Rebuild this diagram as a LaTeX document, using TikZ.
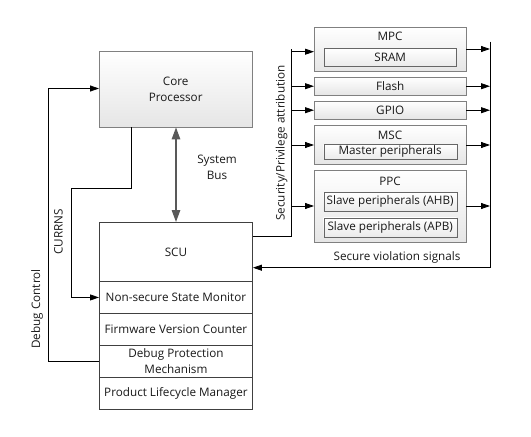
\documentclass[tikz,border=0pt]{standalone}
\usepackage{fontspec}
\setmainfont{Open Sans}
\usetikzlibrary{arrows.meta,shadows}
\begin{document}
\begin{tikzpicture}[x=1pt,y=-1pt,
  every node/.style={font=\fontsize{11.7}{16}\selectfont, text=black!90, inner sep=0pt},
  gbox/.style={draw=black!50, top color=white, bottom color=black!10, anchor=north west,
    drop shadow={shadow xshift=1.2pt, shadow yshift=-1.2pt, opacity=0.25}},
  ibox/.style={draw=black!60, top color=white, bottom color=black!8, anchor=north west,
    drop shadow={shadow xshift=1pt, shadow yshift=-1pt, opacity=0.25}},
  sbox/.style={draw=black!75, line width=0.9pt, fill=white, anchor=north west, minimum width=153pt, align=center},
  wire/.style={draw=black, line width=0.8pt},
  arr/.style={wire, -{Triangle[length=9pt,width=6pt]}},
  bus/.style={draw=black!65, line width=1.3pt, {Triangle[length=12pt,width=8.5pt]}-{Triangle[length=12pt,width=8.5pt]}},
  lbl/.style={align=center}
]
\useasboundingbox (0,0) rectangle (531,437);

% Core processor
\node[gbox, minimum width=153pt, minimum height=76pt, align=center] (core) at (99,51) {Core\\Processor};

% SCU stack
\node[sbox, minimum height=59pt] (scu) at (99,222) {SCU};
\node[sbox, minimum height=32pt] (nsm) at (99,281) {Non-secure State Monitor};
\node[sbox, minimum height=32pt] (fvc) at (99,313) {Firmware Version Counter};
\node[sbox, minimum height=32pt] (dpm) at (99,345) {Debug Protection\\Mechanism};
\node[sbox, minimum height=32pt] (plm) at (99,377) {Product Lifecycle Manager};

% right side boxes
\node[gbox, minimum width=152pt, minimum height=44pt] (mpc) at (314,27) {};
\node (mpcl) at (390,36.5) {MPC};
\node[ibox, minimum width=132pt, minimum height=18pt] (sram) at (324,48) {SRAM};
\node[gbox, minimum width=152pt, minimum height=18pt] (flash) at (314,77) {Flash};
\node[gbox, minimum width=152pt, minimum height=18pt] (gpio) at (314,101) {GPIO};
\node[gbox, minimum width=152pt, minimum height=39pt] (msc) at (314,125) {};
\node (mscl) at (390,135.5) {MSC};
\node[ibox, minimum width=133pt, minimum height=15pt] (mper) at (323.5,144) {Master peripherals};
\node[gbox, minimum width=152pt, minimum height=72pt] (ppc) at (314,169.5) {};
\node (ppcl) at (390,181) {PPC};
\node[ibox, minimum width=133pt, minimum height=19pt] (ahb) at (323.5,192) {Slave peripherals (AHB)};
\node[ibox, minimum width=133pt, minimum height=19pt] (apb) at (323.5,217.5) {Slave peripherals (APB)};

% System bus
\draw[bus] (core.south -| 176,0) -- (scu.north -| 176,0);
\node[lbl] (sysbus) at (217,167.5) {System\\Bus};

% left bus (security attribution)
\coordinate (lbtop) at (291,48.5);
\coordinate (lbbot) at (291,236);
\draw[wire] (scu.east |- lbbot) -- (lbbot) -- (lbtop);
\draw[arr] (lbtop |- 0,51.7) -- (mpc.west |- 0,51.7);
\draw[arr] (lbtop |- flash.west) -- (flash.west);
\draw[arr] (lbtop |- gpio.west) -- (gpio.west);
\draw[arr] (lbtop |- 0,145) -- (msc.west |- 0,145);
\draw[arr] (lbtop |- 0,206) -- (ppc.west |- 0,206);
\node[rotate=90] (secattr) at (281.5,143) {Security/Privilege attribution};

% right bus (violation signals)
\coordinate (rbtop) at (490,41.5);
\coordinate (rbbot) at (490,267.7);
\draw[wire] (rbtop) -- (rbbot);
\draw[arr] (rbbot) -- (scu.east |- rbbot);
\draw[arr] (mpc.east |- 0,49) -- (rbtop |- 0,49);
\draw[arr] (flash.east) -- (rbtop |- flash.east);
\draw[arr] (gpio.east) -- (rbtop |- gpio.east);
\draw[arr] (msc.east |- 0,145) -- (rbtop |- 0,145);
\draw[arr] (ppc.east |- 0,206) -- (rbtop |- 0,206);
\node (secviol) at (397,257.7) {Secure violation signals};

% CURRNS
\coordinate (c1) at (131.7,188.7);
\coordinate (c2) at (71.7,188.7);
\draw[arr] (core.south -| c1) -- (c1) -- (c2) -- (c2 |- nsm.west) -- (nsm.west);
\node[rotate=90] (currns) at (58.5,232) {CURRNS};

% Debug control
\coordinate (d1) at (48,361);
\coordinate (d2) at (48,88.5);
\draw[arr] (dpm.west |- d1) -- (d1) -- (d2) -- (core.west |- d2);
\node[rotate=90] (dbg) at (37,309) {Debug Control};
\end{tikzpicture}
\end{document}
